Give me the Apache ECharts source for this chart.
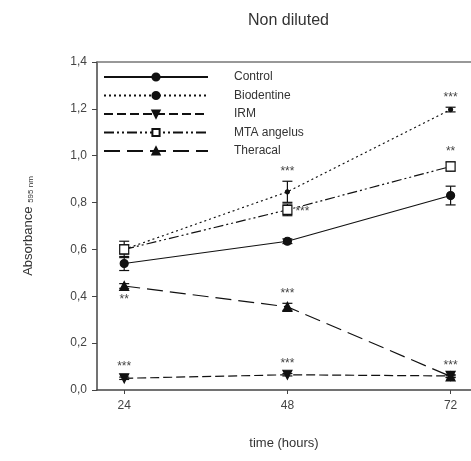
<!DOCTYPE html>
<html>
<head>
<meta charset="utf-8">
<script src="https://cdn.jsdelivr.net/npm/echarts@6/dist/echarts.min.js"></script>
<style>
  html, body { margin: 0; padding: 0; background: #fff; }
  #chart { width: 471px; height: 461px; }
</style>
</head>
<body>
<div id="chart"></div>
<script>
const times = [24, 48, 72];
const yTicks = [0, 0.2, 0.4, 0.6, 0.8, 1.0, 1.2, 1.4];

const control = [0.54, 0.635, 0.83];
const controlErr = [0.03, 0.01, 0.04];
const biodentine = [0.6, 0.846, 1.197];
const biodentineErr = [0.02, 0.045, 0.01];
const irm = [0.05, 0.065, 0.06];
const irmErr = [0.005, 0.005, 0.005];
const mta = [0.6, 0.769, 0.954];
const mtaErr = [0.035, 0.025, 0.02];
const theracal = [0.444, 0.355, 0.058];
const theracalErr = [0.01, 0.015, 0.005];

// significance marks: series, time, text, where
const marks = [
  ['Biodentine', 48, '***', 'top'],
  ['Biodentine', 72, '***', 'top'],
  ['MTA angelus', 48, '***', 'right'],
  ['MTA angelus', 72, '**', 'top'],
  ['Theracal', 24, '**', 'bottom'],
  ['Theracal', 48, '***', 'top'],
  ['IRM', 24, '***', 'top'],
  ['IRM', 48, '***', 'top'],
  ['Theracal', 72, '***', 'top']
];

const ink = '#111';
const font = 'Liberation Sans, Arial, sans-serif';

const groups = [
  { name: 'Control', values: control, err: controlErr, symbol: 'circle', size: 8, rotate: 0, fill: ink, dash: 'solid' },
  { name: 'Biodentine', values: biodentine, err: biodentineErr, symbol: 'circle', size: 4, rotate: 0, fill: ink, dash: [2, 3] },
  { name: 'IRM', values: irm, err: irmErr, symbol: 'triangle', size: 9, rotate: 180, fill: ink, dash: [9, 4] },
  { name: 'MTA angelus', values: mta, err: mtaErr, symbol: 'rect', size: 9, rotate: 0, fill: '#fff', dash: [10, 3, 2, 3, 2, 3] },
  { name: 'Theracal', values: theracal, err: theracalErr, symbol: 'triangle', size: 9, rotate: 0, fill: ink, dash: [16, 7] }
];

const series = [];
groups.forEach(function (g) {
  series.push({
    name: g.name,
    type: 'line',
    data: times.map(function (t, i) { return [t, g.values[i]]; }),
    symbol: g.symbol,
    symbolSize: g.size,
    symbolRotate: g.rotate,
    showAllSymbol: true,
    lineStyle: { color: ink, width: 1.2, type: g.dash },
    itemStyle: { color: g.fill, borderColor: ink, borderWidth: 1.2 },
    z: 3
  });
  series.push({
    type: 'custom',
    silent: true,
    z: 2,
    data: times.map(function (t, i) { return [t, g.values[i] - g.err[i], g.values[i] + g.err[i]]; }),
    renderItem: function (params, api) {
      const lo = api.coord([api.value(0), api.value(1)]);
      const hi = api.coord([api.value(0), api.value(2)]);
      const w = 5;
      const st = { stroke: ink, lineWidth: 1.2 };
      return {
        type: 'group',
        children: [
          { type: 'line', shape: { x1: lo[0], y1: lo[1], x2: hi[0], y2: hi[1] }, style: st },
          { type: 'line', shape: { x1: lo[0] - w, y1: lo[1], x2: lo[0] + w, y2: lo[1] }, style: st },
          { type: 'line', shape: { x1: hi[0] - w, y1: hi[1], x2: hi[0] + w, y2: hi[1] }, style: st }
        ]
      };
    }
  });
});

const markData = marks.map(function (m) {
  const g = groups.find(function (x) { return x.name === m[0]; });
  const i = times.indexOf(m[1]);
  let v = g.values[i];
  if (m[3] === 'top') v += g.err[i];
  if (m[3] === 'bottom') v -= g.err[i];
  return [m[1], v, m[2], m[3]];
});

series.push({
  type: 'custom',
  silent: true,
  z: 4,
  data: markData,
  renderItem: function (params, api) {
    const p = api.coord([api.value(0), api.value(1)]);
    const where = markData[params.dataIndex][3];
    let x = p[0], y = p[1], align = 'center';
    if (where === 'top') y -= 4;
    if (where === 'bottom') y += 17;
    if (where === 'right') { x += 8; y += 8; align = 'left'; }
    return {
      type: 'text',
      style: {
        x: x, y: y,
        text: markData[params.dataIndex][2],
        fill: '#444',
        font: '12px ' + font,
        textAlign: align,
        textVerticalAlign: 'bottom'
      }
    };
  }
});

const chart = echarts.init(document.getElementById('chart'), null, { renderer: 'canvas' });
chart.setOption({
  animation: false,
  backgroundColor: '#fff',
  textStyle: { fontFamily: font },
  title: {
    text: 'Non diluted',
    left: 243,
    top: 8,
    textStyle: { fontSize: 16, fontWeight: 'normal', color: '#333', fontFamily: font }
  },
  legend: {
    orient: 'vertical',
    left: 98,
    top: 66,
    itemWidth: 104,
    itemHeight: 9,
    itemGap: 6.5,
    data: groups.map(function (g) { return g.name; }),
    textStyle: { fontSize: 12, color: '#333', fontFamily: font, padding: [0, 0, 0, 21] }
  },
  grid: { left: 97, right: 0, top: 62, bottom: 71, containLabel: false },
  xAxis: [{
    type: 'value',
    min: 20,
    max: 75,
    name: 'time (hours)',
    nameLocation: 'middle',
    nameGap: 47,
    nameTextStyle: { fontSize: 13, color: '#333', fontFamily: font },
    splitLine: { show: false },
    axisLine: { lineStyle: { color: '#444', width: 1.5 } },
    axisTick: { customValues: times, length: 4, lineStyle: { color: '#444' } },
    axisLabel: { customValues: times, fontSize: 12, color: '#444', margin: 10, fontFamily: font }
  }, {
    type: 'value',
    position: 'top',
    min: 20,
    max: 75,
    axisLine: { show: true, lineStyle: { color: '#777', width: 1.5 } },
    axisTick: { show: false },
    axisLabel: { show: false },
    splitLine: { show: false }
  }],
  yAxis: {
    type: 'value',
    min: 0,
    max: 1.4,
    interval: 0.2,
    name: '{a|Absorbance }{s|595 nm}',
    nameLocation: 'middle',
    nameGap: 62,
    nameRotate: 90,
    nameTextStyle: {
      color: '#333',
      fontFamily: font,
      rich: {
        a: { fontSize: 13, color: '#333', fontFamily: font },
        s: { fontSize: 8, color: '#333', fontFamily: font, verticalAlign: 'bottom', padding: [6, 0, 0, 0] }
      }
    },
    splitLine: { show: false },
    axisLine: { show: true, lineStyle: { color: '#444', width: 1.5 } },
    axisTick: { show: true, length: 5, lineStyle: { color: '#444' } },
    axisLabel: {
      fontSize: 12,
      color: '#444',
      margin: 10,
      fontFamily: font,
      formatter: function (v) { return v.toFixed(1).replace('.', ','); }
    }
  },
  series: series
});
</script>
</body>
</html>
